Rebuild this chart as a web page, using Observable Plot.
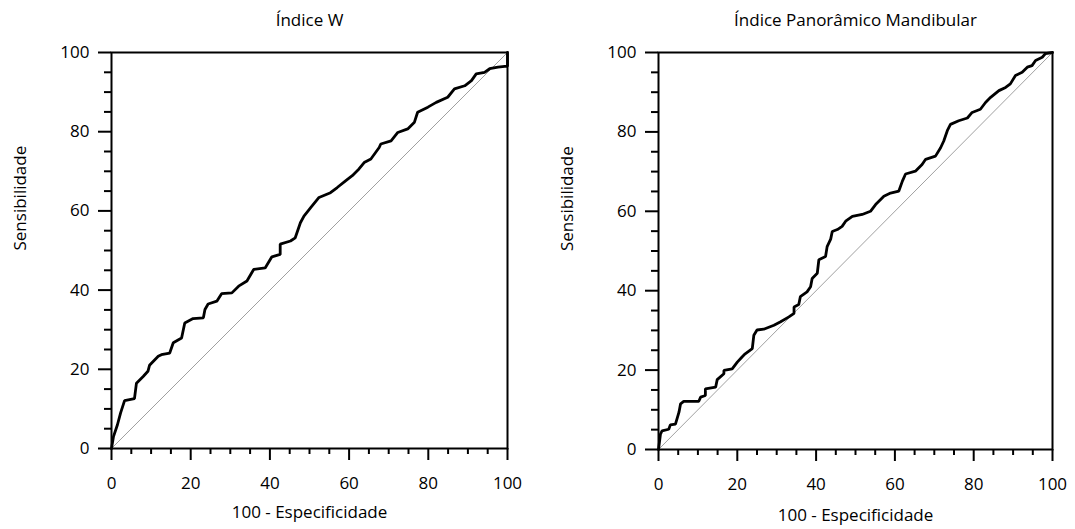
<!DOCTYPE html>
<html>
<head>
<meta charset="utf-8">
<script src="https://cdn.jsdelivr.net/npm/d3@7"></script>
<script src="https://cdn.jsdelivr.net/npm/@observablehq/plot@0.6"></script>
<style>
  html, body { margin: 0; padding: 0; background: #fff; }
  #wrap { display: flex; width: 1075px; height: 529px; }
  #wrap > div { flex: none; }
</style>
</head>
<body>
<div id="wrap"><div id="left"></div><div id="right"></div></div>
<script>
// ---- data ----
const titles = ["Índice W", "Índice Panorâmico Mandibular"];
const xLabel = "100 - Especificidade";
const yLabel = "Sensibilidade";
const majorTicks = [0, 20, 40, 60, 80, 100];
const minorTicks = [5, 10, 15, 25, 30, 35, 45, 50, 55, 65, 70, 75, 85, 90, 95];

const leftX = [0, 0.5, 1.5, 2.3, 3.3, 5.8, 6.3, 8, 9.2, 9.6, 11.8, 12.6, 14.7, 15.6, 17.7, 18.5, 20.6, 23.2, 23.6, 24.4, 26.6, 27.8, 30.4, 32.1, 34.2, 35.9, 38.8, 40.5, 42.6, 42.6, 45.2, 46.4, 47.7, 48.6, 50.3, 52.4, 55.3, 57, 59.1, 60.8, 62.5, 63.8, 65.5, 67.6, 68, 70.6, 72.3, 74.8, 76.5, 77.3, 79.9, 82, 84.9, 86.6, 89.2, 90.9, 92.1, 94.2, 95.5, 97.6, 99.3, 100, 100];
const leftY = [0, 3, 6, 9, 12.1, 12.6, 16.5, 18.2, 19.5, 21, 23.3, 23.7, 24.1, 26.7, 27.9, 31.7, 32.8, 33, 35.1, 36.5, 37.2, 39.1, 39.3, 41, 42.3, 45.2, 45.6, 48.4, 49, 51.6, 52.4, 53.2, 57, 58.7, 60.8, 63.4, 64.6, 65.9, 67.6, 68.9, 70.6, 72.2, 73.1, 76, 76.9, 77.7, 79.8, 80.7, 82.4, 84.9, 86.2, 87.4, 88.7, 90.8, 91.6, 92.9, 94.6, 95, 95.9, 96.3, 96.5, 96.5, 100];

const rightX = [0, 0.5, 0.9, 2.6, 3, 4.3, 5.2, 5.6, 6.4, 10.2, 10.7, 11.9, 11.9, 14.5, 14.9, 16.6, 16.6, 18.7, 20, 21.2, 22, 23.8, 24.2, 25, 26.7, 29.3, 31, 33.1, 34.4, 34.4, 35.6, 36, 37.7, 38.6, 39, 40.3, 40.7, 42.4, 42.8, 43.7, 44.1, 45.4, 46.6, 47.5, 49.2, 51.7, 53.8, 55.1, 57.2, 58.9, 61, 61.9, 62.7, 65.2, 66.9, 67.8, 70.3, 71.6, 72.4, 73.3, 74.1, 76.2, 78.4, 79.6, 81.7, 83, 84.3, 86.4, 88.1, 89.3, 90.6, 92.3, 93.6, 94.8, 95.7, 97.4, 98.2, 100];
const rightY = [0, 3.9, 4.7, 5.1, 6.2, 6.4, 9.4, 11.5, 12.1, 12.1, 13.2, 13.6, 15.3, 15.7, 17.6, 19.1, 19.9, 20.3, 22, 23.3, 24.1, 25.4, 28.8, 30.1, 30.3, 31.3, 32.2, 33.4, 34.3, 35.9, 36.5, 38.5, 39.7, 41, 43.1, 44.4, 47.8, 48.6, 51.1, 53, 54.9, 55.4, 56.2, 57.5, 58.7, 59.2, 60, 61.7, 63.8, 64.6, 65.1, 67.6, 69.4, 70.1, 71.8, 73.1, 73.9, 76, 77.7, 80.3, 81.9, 82.8, 83.5, 84.9, 85.7, 87.4, 88.7, 90.4, 91.2, 92.1, 94.2, 95, 96.3, 96.7, 98, 98.8, 99.7, 100];

const diagonal = [0, 100];

function panel(title, xs, ys, opts) {
  const pts = xs.map((x, i) => ({x, y: ys[i]}));
  const diag = diagonal.map(v => ({x: v, y: v}));
  const fs = 17;
  return Plot.plot({
    width: opts.width,
    height: 529,
    marginLeft: opts.marginLeft,
    marginRight: opts.marginRight,
    marginTop: 52,
    marginBottom: opts.marginBottom,
    style: {fontFamily: "'Open Sans', sans-serif", fontSize: fs + "px", color: "#000", background: "#fff"},
    x: {domain: [0, 100]},
    y: {domain: [0, 100]},
    marks: [
      Plot.line(diag, {x: "x", y: "y", stroke: "#a0a0a0", strokeWidth: 1}),
      Plot.line(pts, {x: "x", y: "y", stroke: "#000", strokeWidth: 2.8, strokeLinejoin: "miter"}),
      Plot.axisX({ticks: minorTicks, tickSize: 6, text: null, strokeWidth: 2, label: null}),
      Plot.axisX({ticks: majorTicks, tickSize: 12, tickPadding: 16, strokeWidth: 2, label: null, fontSize: fs, fill: "#000"}),
      Plot.axisY({ticks: minorTicks, tickSize: 7, text: null, strokeWidth: 2, label: null}),
      Plot.axisY({ticks: majorTicks, tickSize: 13, tickPadding: 9, strokeWidth: 2, label: null, fontSize: fs, fill: "#000"}),
      Plot.frame({stroke: "#000", strokeWidth: 2}),
      Plot.text([title], {frameAnchor: "top", dy: -32, fontSize: fs, lineAnchor: "middle", fill: "#000"}),
      Plot.text([xLabel], {frameAnchor: "bottom", dy: opts.xLabelDy, fontSize: fs, lineAnchor: "middle", fill: "#000"}),
      Plot.text([yLabel], {frameAnchor: "left", dx: -91, rotate: -90, fontSize: fs, lineAnchor: "middle", fill: "#000"})
    ]
  });
}

document.getElementById("left").append(panel(titles[0], leftX, leftY, {width: 540, marginLeft: 111, marginRight: 33, marginBottom: 81, xLabelDy: 64}));
document.getElementById("right").append(panel(titles[1], rightX, rightY, {width: 535, marginLeft: 658 - 540, marginRight: 535 - (1052 - 540), marginBottom: 80, xLabelDy: 66}));
</script>
</body>
</html>
